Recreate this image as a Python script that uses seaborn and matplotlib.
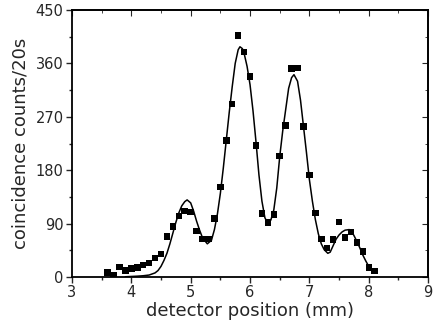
import matplotlib
matplotlib.use('Agg')
import matplotlib.pyplot as plt
from matplotlib.ticker import MultipleLocator
import numpy as np
import pandas as pd
import seaborn as sns

# measured points (detector position in mm, counts per 20 s)
pos = [3.6, 3.7, 3.8, 3.9, 4.0, 4.1, 4.2, 4.3, 4.4, 4.5,
       4.6, 4.7, 4.8, 4.9, 5.0, 5.1, 5.2, 5.3, 5.4, 5.5,
       5.6, 5.7, 5.8, 5.9, 6.0, 6.1, 6.2, 6.3, 6.4, 6.5,
       6.6, 6.7, 6.8, 6.9, 7.0, 7.1, 7.2, 7.3, 7.4, 7.5,
       7.6, 7.7, 7.8, 7.9, 8.0, 8.1]
counts = [8, 3, 17, 11, 14, 16, 20, 24, 32, 39,
          68, 85, 103, 111, 110, 78, 64, 64, 99, 152,
          230, 292, 407, 379, 338, 222, 107, 92, 105, 204,
          255, 351, 352, 254, 172, 108, 64, 49, 63, 93,
          67, 76, 58, 43, 16, 10]

# fitted curve
fit_x = [3.9, 4.0, 4.1, 4.2, 4.3, 4.4, 4.45, 4.5, 4.55, 4.6,
         4.65, 4.7, 4.75, 4.8, 4.85, 4.9, 4.94, 5.0, 5.05, 5.1,
         5.15, 5.2, 5.28, 5.35, 5.4, 5.45, 5.5, 5.55, 5.6, 5.65,
         5.7, 5.75, 5.8, 5.83, 5.87, 5.9, 5.95, 6.0, 6.05, 6.1,
         6.15, 6.2, 6.25, 6.3, 6.35, 6.4, 6.45, 6.5, 6.55, 6.6,
         6.65, 6.7, 6.74, 6.8, 6.85, 6.9, 6.95, 7.0, 7.05, 7.1,
         7.15, 7.2, 7.25, 7.31, 7.35, 7.4, 7.45, 7.5, 7.55, 7.6,
         7.67, 7.71, 7.75, 7.8, 7.85, 7.9, 7.95, 8.0, 8.07]
fit_y = [0.5, 1, 1.5, 2.2, 3.4, 7, 11, 18, 28, 40,
         56, 74, 92, 108, 120, 127, 130, 125, 111, 94,
         79, 66, 56, 62, 80, 106, 141, 184, 231, 278,
         321, 360, 383, 388, 385, 377, 355, 324, 280, 228,
         172, 128, 100, 90, 96, 113, 150, 203, 246, 282,
         318, 336, 341, 330, 298, 254, 210, 164, 128, 97,
         73, 56, 46, 40, 42, 53, 64, 71, 76, 79,
         80, 77, 70, 60, 49, 37, 27, 18, 8]

pts = pd.DataFrame({'x': pos, 'y': counts})
fit = pd.DataFrame({'x': fit_x, 'y': fit_y})

sns.set_style('ticks')
plt.rcParams['font.family'] = ['DejaVu Sans']

fig, ax = plt.subplots(figsize=(4.36, 3.33), dpi=100)
fig.subplots_adjust(left=0.165, right=0.982, bottom=0.168, top=0.97)

sns.lineplot(data=fit, x='x', y='y', color='black', linewidth=1.1, ax=ax, sort=False)
sns.scatterplot(data=pts, x='x', y='y', marker='s', s=22, color='black',
                edgecolor='none', ax=ax, zorder=3)

ax.set_xlim(3, 9)
ax.set_ylim(0, 450)
ax.xaxis.set_major_locator(MultipleLocator(1))
ax.xaxis.set_minor_locator(MultipleLocator(0.5))
ax.yaxis.set_major_locator(MultipleLocator(90))
ax.yaxis.set_minor_locator(MultipleLocator(45))
ax.tick_params(which='major', direction='out', length=4, width=1, labelsize=10.5, pad=2)
ax.tick_params(which='minor', direction='out', length=2.5, width=1)

for sp in ax.spines.values():
    sp.set_visible(True)
    sp.set_linewidth(1.3)
    sp.set_color('black')

top = ax.secondary_xaxis('top')
top.xaxis.set_major_locator(MultipleLocator(1))
top.xaxis.set_minor_locator(MultipleLocator(0.5))
top.tick_params(which='both', direction='in', labeltop=False)
top.tick_params(which='major', length=4)
top.tick_params(which='minor', length=2.5)
top.spines['top'].set_linewidth(1.3)

right = ax.secondary_yaxis('right')
right.yaxis.set_major_locator(MultipleLocator(90))
right.yaxis.set_minor_locator(MultipleLocator(45))
right.tick_params(which='both', direction='in', labelright=False)
right.tick_params(which='major', length=4)
right.tick_params(which='minor', length=2.5)
right.spines['right'].set_linewidth(1.3)

ax.set_xlabel('detector position (mm)', fontsize=13, labelpad=1)
ax.set_ylabel('coincidence counts/20s', fontsize=13, labelpad=4)

fig.savefig('out.png', dpi=100)
